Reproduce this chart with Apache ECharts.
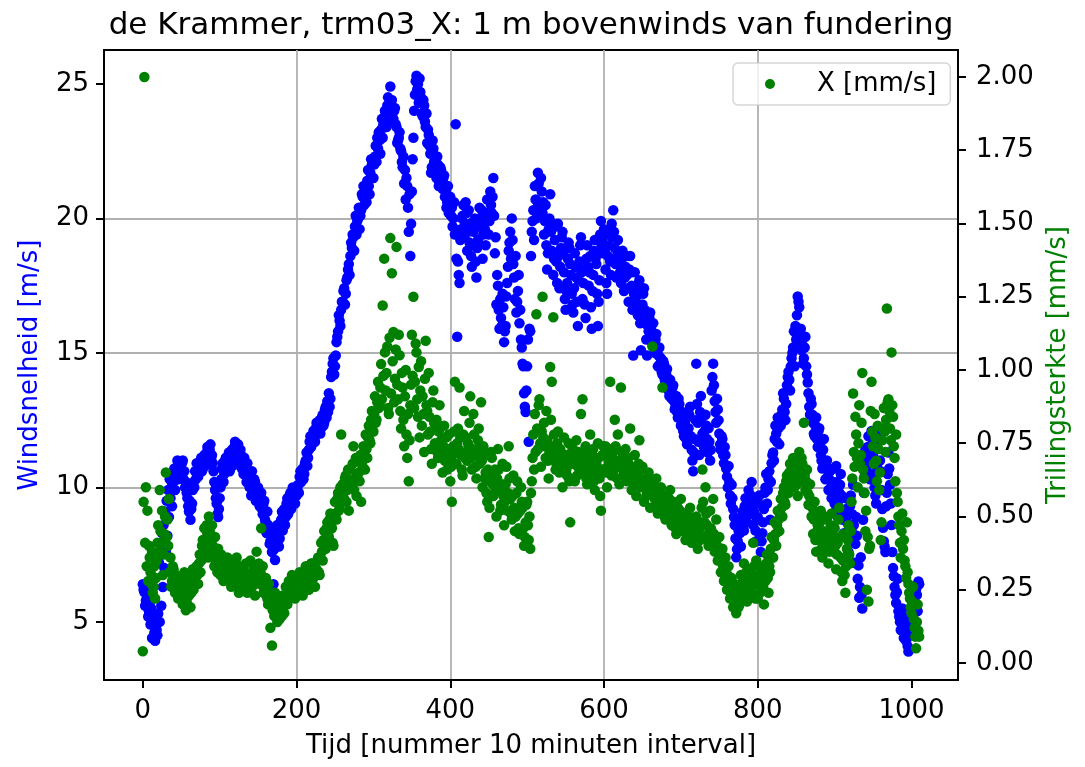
<!DOCTYPE html>
<html>
<head>
<meta charset="utf-8">
<script src="https://cdn.jsdelivr.net/npm/echarts@6/dist/echarts.min.js"></script>
<style>
html,body{margin:0;padding:0;background:#fff;}
#chart{width:1085px;height:767px;}
</style>
</head>
<body>
<div id="chart"></div>
<script>
// One stored value per 10-minute interval number, starting at interval 0
const tijdStap = 1;

// Windsnelheid [m/s]  (10 values per row: intervals n0..n9)
const windsnelheid = [
 6.4,6.2,6.1,5.6,5.8,6.3,6.0,5.2,5.4,5.7,
 4.9,5.5,4.4,5.0,5.1,4.6,4.3,5.3,4.7,4.5,
 5.3,7.2,5.0,7.6,5.6,8.3,6.3,8.6,7.0,9.1,
 7.6,9.5,8.2,9.9,8.9,10.3,9.6,10.0,9.3,10.5,
 10.2,10.7,9.9,10.4,10.6,11.0,10.3,10.8,10.9,10.4,
 10.5,10.9,11.0,10.3,10.6,10.0,10.2,9.8,9.6,9.3,
 9.1,9.5,8.8,9.2,9.4,9.9,10.2,10.0,10.6,10.3,
 10.9,10.5,10.4,10.9,10.8,11.0,11.1,10.6,10.7,11.0,
 11.2,10.8,10.9,11.3,11.5,11.0,11.3,11.4,11.6,11.1,
 11.2,10.9,10.6,10.2,9.9,9.6,9.4,9.0,8.9,9.2,
 9.6,10.0,10.3,10.7,10.9,10.2,10.5,11.0,11.1,10.7,
 10.8,11.1,11.3,10.6,10.9,11.2,11.4,10.8,11.0,11.5,
 11.7,11.0,11.3,11.5,11.6,11.1,10.9,11.4,11.2,10.7,
 10.8,10.5,11.1,10.7,10.6,10.2,10.9,10.3,10.4,10.0,
 10.1,9.7,10.6,10.0,9.8,10.3,10.2,9.5,9.6,10.0,
 10.0,9.6,9.3,9.7,9.8,9.2,9.0,9.4,9.5,8.8,
 8.7,8.3,9.1,8.6,8.4,7.9,8.0,8.2,7.6,7.8,
 6.4,7.7,7.3,8.2,7.9,8.6,8.5,7.8,8.1,8.7,
 8.8,9.1,8.4,8.9,9.2,8.6,8.9,9.4,9.6,9.0,
 9.3,9.7,9.8,9.2,9.5,10.0,9.9,9.6,9.4,9.8,
 9.7,10.0,10.1,9.8,10.4,10.6,10.2,10.5,10.7,10.3,
 10.5,10.9,11.0,11.3,10.8,11.1,11.4,11.7,11.9,11.5,
 11.6,11.9,12.1,11.8,11.7,12.2,12.4,12.1,12.0,12.3,
 12.5,12.0,12.2,12.6,12.7,12.3,12.4,12.9,13.0,12.6,
 13.2,12.8,13.5,13.0,13.3,14.1,14.3,14.6,14.8,14.2,
 14.5,14.9,15.4,15.6,15.8,16.4,16.2,16.0,16.6,16.9,
 16.9,17.3,17.4,16.8,17.2,17.7,17.8,18.1,18.3,17.9,
 18.6,19.1,18.9,19.4,19.3,18.8,19.7,20.1,19.4,19.9,
 20.0,20.4,19.6,20.1,20.3,20.9,20.8,21.2,20.5,21.0,
 21.0,20.6,21.4,21.8,21.2,20.9,21.7,22.2,22.0,21.5,
 21.5,22.0,22.3,22.7,22.1,23.0,22.6,23.2,22.9,22.4,
 23.3,23.7,23.0,23.5,23.6,24.0,23.9,23.4,24.2,24.5,
 23.8,24.3,24.9,23.9,24.4,23.6,23.7,24.0,24.1,23.5,
 23.4,22.8,22.9,23.0,23.2,22.6,22.5,22.1,21.9,22.3,
 21.3,21.8,20.7,21.5,21.2,20.4,19.5,20.9,18.6,19.8,
 21.0,22.2,23.0,24.0,24.6,25.1,25.3,24.8,25.0,24.3,
 25.2,24.7,24.5,23.9,23.8,24.4,24.2,23.6,23.4,23.9,
 22.8,23.3,23.1,22.7,22.4,21.7,21.9,22.9,22.6,22.1,
 22.2,21.7,21.5,22.3,22.0,21.2,21.3,21.9,21.8,21.4,
 21.1,21.5,21.6,20.8,21.0,20.4,20.6,21.2,20.2,20.7,
 20.8,20.1,20.4,19.7,20.0,20.6,19.4,23.5,18.5,15.6,
 18.4,17.9,17.6,19.2,19.6,20.0,20.1,20.5,19.3,19.8,
 20.6,20.2,18.8,19.5,20.3,19.1,19.8,18.6,18.2,19.0,
 19.5,19.9,20.0,18.4,17.8,18.9,19.2,19.7,20.4,20.0,
 19.7,20.3,18.5,19.4,20.1,19.6,19.0,20.0,20.7,20.2,
 19.4,19.9,21.0,20.5,20.2,20.8,21.5,20.1,18.7,19.3,
 16.8,17.9,17.5,16.6,15.9,17.0,16.3,16.0,17.2,16.7,
 15.4,15.8,16.0,17.1,17.6,18.2,18.8,19.1,19.5,18.5,
 20.0,19.2,18.3,17.8,17.0,18.6,16.5,16.9,17.3,17.9,
 16.1,16.6,15.5,15.2,14.6,14.5,13.5,13.0,12.8,13.6,
 14.5,15.5,11.7,15.9,15.8,18.6,19.5,19.9,20.3,19.2,
 21.2,20.7,20.0,20.4,21.7,21.3,20.6,20.2,21.5,21.0,
 20.2,20.6,19.4,19.9,20.5,19.0,18.1,18.7,19.6,20.0,
 20.9,19.5,18.8,19.8,17.9,18.5,19.2,19.7,18.4,17.6,
 19.8,18.6,17.4,18.2,18.9,19.3,19.5,18.7,18.0,17.0,
 16.6,17.3,17.6,18.5,19.1,18.9,18.3,17.9,17.2,16.8,
 16.5,17.4,18.7,18.2,17.8,16.9,16.0,17.7,18.4,19.0,
 19.3,18.0,17.0,17.6,18.1,16.8,16.3,18.5,19.0,18.2,
 17.5,18.0,18.6,16.7,15.9,17.3,17.9,18.8,19.2,18.5,
 18.3,17.2,16.0,16.9,17.7,19.4,19.9,19.0,18.7,19.3,
 19.6,18.8,18.1,17.6,17.2,18.6,19.0,19.5,18.4,17.9,
 19.8,19.3,20.3,19.5,18.9,18.3,17.8,18.6,19.2,18.7,
 18.5,18.0,17.6,18.3,18.8,17.9,17.3,17.8,18.2,18.6,
 17.9,17.4,16.9,18.1,18.6,18.0,17.5,16.6,14.9,17.2,
 18.0,17.5,17.1,16.8,16.4,17.2,17.7,16.1,15.1,16.5,
 16.8,17.2,17.4,16.6,16.2,15.5,14.9,16.0,15.8,16.3,
 16.5,15.9,15.6,15.3,16.1,15.4,15.0,15.5,15.7,15.1,
 14.5,14.9,15.2,14.6,14.8,14.3,14.2,14.7,14.6,14.0,
 13.9,14.2,14.4,13.8,13.6,13.4,14.0,13.5,13.3,13.7,
 13.8,13.2,12.9,13.0,13.4,12.8,12.6,13.3,13.1,12.7,
 12.3,12.6,12.8,12.1,11.9,12.4,12.5,11.8,11.6,12.0,
 12.2,12.7,13.0,11.9,11.4,11.0,10.6,11.3,11.8,12.5,
 14.6,13.1,12.4,11.7,11.2,12.8,13.4,12.6,12.0,11.6,
 11.5,12.1,12.7,12.3,11.8,11.3,12.2,11.7,11.0,11.4,
 13.6,14.1,14.6,13.8,13.2,12.8,12.4,13.3,12.9,12.5,
 12.0,11.6,11.4,11.9,11.8,11.2,10.9,11.5,11.2,10.7,
 10.4,10.0,10.8,10.2,9.7,9.4,10.1,9.6,9.2,8.9,
 8.6,8.1,7.4,7.7,8.0,8.4,8.8,8.3,7.8,8.5,
 9.1,8.7,8.4,9.3,9.6,9.0,8.7,9.5,9.9,9.4,
 9.0,9.7,10.2,9.3,8.6,9.1,9.5,8.4,8.0,8.8,
 8.9,9.4,9.7,8.2,7.6,8.0,8.3,8.7,9.2,9.8,
 10.0,10.5,9.4,9.9,10.3,10.6,8.8,10.2,10.9,11.2,
 11.3,11.0,11.8,12.3,12.0,11.7,12.6,12.2,11.6,12.4,
 12.3,12.7,12.9,13.5,13.3,12.8,12.5,13.1,13.8,14.1,
 14.3,14.0,13.6,14.5,14.8,15.0,15.2,15.8,14.5,16.0,
 15.5,16.4,17.1,16.9,16.7,15.7,15.9,15.1,15.3,14.6,
 14.8,15.2,15.6,14.5,14.2,13.9,13.5,13.0,12.7,13.3,
 13.1,12.7,12.4,12.0,11.9,12.3,12.6,11.8,11.5,12.1,
 12.2,11.6,11.2,11.0,10.7,11.4,11.8,10.9,10.3,10.8,
 11.0,10.4,9.9,10.3,10.6,10.0,9.6,9.9,10.2,10.7,
 9.4,9.1,10.8,10.2,8.9,9.5,9.8,10.1,10.5,9.7,
 9.1,8.8,8.3,9.0,9.6,9.2,8.7,8.1,7.6,8.5,
 9.3,9.7,8.4,9.0,10.1,8.6,7.2,7.9,8.9,8.2,
 6.6,7.1,5.9,6.3,7.4,6.0,5.5,8.8,9.8,10.4,
 11.4,11.0,10.6,11.5,11.9,11.2,10.3,10.9,12.1,11.6,
 11.2,10.5,10.0,9.7,9.4,10.8,11.7,11.9,12.0,11.0,
 10.6,9.9,9.2,8.5,8.0,7.8,7.6,9.3,9.8,10.5,
 11.3,10.7,10.1,9.4,8.6,7.6,7.0,6.7,6.3,6.0,
 5.7,6.1,6.6,5.4,5.2,5.0,4.7,5.3,5.5,4.9,
 4.4,4.8,5.0,4.3,4.6,4.1,3.9,4.7,5.2,4.5,
 4.5,5.1,5.8,5.5,4.9,5.7,6.2,6.0,5.4,6.5,
 6.4
];

// Trillingsterkte X [mm/s]  (10 values per row: intervals n0..n9)
const trillingX = [
 0.04,0.55,2.00,0.41,0.60,0.33,0.52,0.28,0.40,0.36,
 0.31,0.27,0.38,0.24,0.26,0.33,0.22,0.29,0.35,0.41,
 0.47,0.38,0.59,0.45,0.41,0.52,0.30,0.37,0.44,0.50,
 0.65,0.43,0.49,0.40,0.56,0.31,0.36,0.26,0.28,0.33,
 0.32,0.28,0.24,0.30,0.27,0.25,0.22,0.29,0.25,0.23,
 0.29,0.24,0.20,0.27,0.31,0.23,0.18,0.21,0.26,0.30,
 0.23,0.26,0.19,0.24,0.28,0.32,0.25,0.29,0.30,0.27,
 0.33,0.30,0.27,0.34,0.37,0.31,0.35,0.40,0.42,0.38,
 0.46,0.42,0.39,0.47,0.44,0.36,0.50,0.45,0.41,0.37,
 0.47,0.40,0.36,0.33,0.43,0.38,0.34,0.31,0.39,0.35,
 0.33,0.30,0.37,0.32,0.31,0.28,0.35,0.30,0.29,0.33,
 0.36,0.31,0.32,0.28,0.30,0.26,0.34,0.29,0.27,0.32,
 0.31,0.27,0.36,0.30,0.28,0.24,0.33,0.29,0.25,0.30,
 0.30,0.26,0.27,0.31,0.34,0.28,0.24,0.27,0.29,0.25,
 0.35,0.30,0.26,0.29,0.32,0.27,0.23,0.31,0.38,0.28,
 0.30,0.34,0.27,0.31,0.46,0.28,0.33,0.24,0.25,0.29,
 0.29,0.25,0.22,0.20,0.27,0.23,0.12,0.21,0.06,0.18,
 0.20,0.16,0.24,0.19,0.17,0.14,0.21,0.18,0.15,0.19,
 0.19,0.16,0.23,0.20,0.17,0.22,0.26,0.21,0.20,0.24,
 0.28,0.25,0.24,0.27,0.30,0.23,0.26,0.29,0.22,0.27,
 0.29,0.26,0.25,0.28,0.31,0.24,0.27,0.30,0.23,0.28,
 0.30,0.27,0.33,0.29,0.28,0.31,0.25,0.30,0.31,0.34,
 0.34,0.30,0.29,0.33,0.26,0.31,0.32,0.35,0.36,0.31,
 0.30,0.36,0.41,0.38,0.35,0.42,0.45,0.40,0.39,0.46,
 0.48,0.44,0.43,0.49,0.51,0.47,0.46,0.41,0.40,0.50,
 0.55,0.51,0.49,0.56,0.58,0.52,0.53,0.60,0.78,0.57,
 0.61,0.58,0.56,0.63,0.64,0.55,0.59,0.66,0.52,0.60,
 0.66,0.62,0.60,0.68,0.74,0.59,0.63,0.70,0.57,0.64,
 0.69,0.65,0.62,0.71,0.55,0.68,0.67,0.74,0.72,0.66,
 0.78,0.73,0.70,0.77,0.81,0.76,0.75,0.83,0.86,0.79,
 0.79,0.85,0.91,0.82,0.83,0.89,0.96,0.87,0.88,0.94,
 1.02,0.90,1.22,0.98,1.38,1.06,0.93,0.99,1.08,0.87,
 0.85,1.11,1.45,0.92,1.33,1.03,1.13,0.89,0.97,1.07,
 1.42,0.95,0.90,1.12,1.05,0.86,0.80,0.99,0.94,0.83,
 0.74,0.91,1.00,0.78,0.70,0.85,0.62,0.76,0.88,0.95,
 1.12,0.98,1.25,0.87,0.96,1.09,1.06,0.90,0.84,1.01,
 0.77,0.93,1.03,0.81,0.91,0.85,0.72,0.97,1.10,0.88,
 0.86,0.78,0.99,0.84,0.79,0.73,0.68,0.89,0.93,0.82,
 0.75,0.80,0.83,0.72,0.70,0.79,0.88,0.81,0.76,0.71,
 0.65,0.74,0.81,0.69,0.72,0.77,0.66,0.73,0.78,0.70,
 0.62,0.67,0.55,0.71,0.74,0.79,0.96,0.72,0.68,0.75,
 0.80,0.73,0.94,0.77,0.71,0.66,0.64,0.78,0.86,0.70,
 0.77,0.72,0.69,0.75,0.74,0.82,0.91,0.70,0.66,0.73,
 0.85,0.78,0.72,0.67,0.63,0.71,0.76,0.80,0.68,0.74,
 0.89,0.69,0.60,0.74,0.71,0.63,0.65,0.58,0.55,0.66,
 0.43,0.53,0.62,0.72,0.70,0.61,0.57,0.64,0.66,0.59,
 0.50,0.63,0.73,0.66,0.59,0.52,0.54,0.61,0.68,0.57,
 0.47,0.55,0.61,0.67,0.52,0.58,0.74,0.63,0.56,0.51,
 0.49,0.57,0.64,0.53,0.45,0.50,0.58,0.62,0.51,0.46,
 0.44,0.52,0.60,0.55,0.53,0.46,0.40,0.43,0.48,0.54,
 0.55,0.47,0.42,0.50,0.39,0.58,0.62,0.70,0.78,0.66,
 0.85,0.72,1.19,0.80,0.73,0.88,0.90,0.75,0.67,0.79,
 1.25,0.77,0.82,0.74,0.70,0.86,0.76,0.69,0.63,0.72,
 1.01,0.83,0.96,0.71,1.18,0.78,0.74,0.66,0.68,0.75,
 0.79,0.70,0.65,0.73,0.72,0.67,0.60,0.69,0.77,0.71,
 0.70,0.66,0.64,0.71,0.75,0.62,0.48,0.68,0.69,0.73,
 0.73,0.68,0.62,0.70,0.76,0.64,0.67,0.72,0.71,0.65,
 0.85,0.70,0.90,0.68,0.66,0.72,0.74,0.63,0.61,0.69,
 0.70,0.66,0.78,0.69,0.65,0.71,0.73,0.62,0.59,0.67,
 0.68,0.64,0.75,0.70,0.63,0.57,0.52,0.66,0.71,0.74,
 0.66,0.71,0.74,0.65,0.60,0.67,0.69,0.73,0.96,0.68,
 0.64,0.70,0.72,0.66,0.83,0.74,0.67,0.63,0.78,0.69,
 0.61,0.68,0.94,0.72,0.70,0.64,0.65,0.71,0.73,0.66,
 0.62,0.70,0.68,0.63,0.80,0.67,0.59,0.64,0.66,0.61,
 0.71,0.65,0.57,0.62,0.64,0.68,0.76,0.63,0.60,0.66,
 0.67,0.61,0.55,0.60,0.62,0.57,0.58,0.63,0.65,0.59,
 0.53,0.60,0.62,1.08,0.61,0.57,0.56,0.59,0.63,0.55,
 0.51,0.56,0.58,0.53,0.60,0.55,0.94,0.57,0.54,0.50,
 0.49,0.54,0.57,0.51,0.52,0.56,0.59,0.50,0.47,0.53,
 0.55,0.49,0.50,0.46,0.44,0.51,0.53,0.47,0.48,0.52,
 0.56,0.50,0.45,0.48,0.51,0.46,0.42,0.47,0.49,0.44,
 0.46,0.50,0.53,0.45,0.41,0.47,0.48,0.43,0.44,0.49,
 0.50,0.44,0.39,0.45,0.46,0.42,0.48,0.53,0.66,0.55,
 0.43,0.48,0.60,0.51,0.47,0.42,0.40,0.45,0.52,0.46,
 0.45,0.41,0.56,0.44,0.38,0.43,0.49,0.40,0.35,0.39,
 0.43,0.37,0.31,0.35,0.39,0.33,0.28,0.32,0.36,0.30,
 0.25,0.30,0.33,0.27,0.22,0.26,0.29,0.23,0.19,0.24,
 0.27,0.21,0.17,0.22,0.24,0.19,0.20,0.26,0.30,0.23,
 0.23,0.28,0.34,0.25,0.26,0.31,0.21,0.27,0.29,0.24,
 0.32,0.28,0.24,0.30,0.41,0.33,0.27,0.22,0.35,0.29,
 0.22,0.27,0.30,0.24,0.25,0.31,0.33,0.26,0.20,0.28,
 0.28,0.34,0.37,0.29,0.24,0.33,0.31,0.39,0.43,0.36,
 0.36,0.42,0.48,0.44,0.40,0.47,0.52,0.49,0.45,0.50,
 0.56,0.53,0.50,0.58,0.60,0.55,0.54,0.62,0.64,0.59,
 0.58,0.65,0.68,0.63,0.62,0.67,0.70,0.66,0.60,0.64,
 0.65,0.61,0.57,0.69,0.72,0.66,0.63,0.70,0.68,0.62,
 0.82,0.64,0.59,0.62,0.66,0.58,0.54,0.57,0.61,0.55,
 0.50,0.53,0.44,0.49,0.55,0.42,0.38,0.45,0.47,0.51,
 0.42,0.48,0.52,0.39,0.36,0.43,0.45,0.50,0.40,0.44,
 0.49,0.41,0.34,0.38,0.43,0.47,0.51,0.44,0.38,0.42,
 0.46,0.40,0.32,0.37,0.41,0.49,0.53,0.43,0.36,0.31,
 0.28,0.35,0.44,0.30,0.24,0.33,0.39,0.42,0.47,0.37,
 0.34,0.45,0.55,0.63,0.92,0.72,0.67,0.84,0.78,0.70,
 0.60,0.75,0.88,0.68,0.71,0.82,0.99,0.66,0.63,0.58,
 0.45,0.52,0.25,0.43,0.21,0.39,0.40,0.86,0.96,0.79,
 0.74,0.68,0.85,0.77,0.69,0.62,0.81,0.73,0.59,0.65,
 0.42,0.48,0.76,0.80,0.87,0.79,0.72,0.83,1.21,0.89,
 0.90,0.86,0.80,0.76,1.06,0.88,0.84,0.74,0.70,0.62,
 0.78,0.58,0.55,0.50,0.47,0.41,0.36,0.45,0.51,0.39,
 0.42,0.35,0.33,0.29,0.48,0.31,0.27,0.24,0.22,0.19,
 0.17,0.21,0.26,0.15,0.12,0.09,0.05,0.14,0.20,0.11,
 0.09
];

const xTickValues = [0, 200, 400, 600, 800, 1000];
const windTickValues = [5, 10, 15, 20, 25];
const trilTickValues = [0, 0.25, 0.5, 0.75, 1.0, 1.25, 1.5, 1.75, 2.0];

const titel = 'de Krammer, trm03_X: 1 m bovenwinds van fundering';
const xNaam = 'Tijd [nummer 10 minuten interval]';
const windNaam = 'Windsnelheid [m/s]';
const trilNaam = 'Trillingsterkte [mm/s]';
const legendaNaam = 'X [mm/s]';

const FONT = 'DejaVu Sans';
const windData = windsnelheid.map((v, i) => [i * tijdStap, v]);
const trilData = trillingX.map((v, i) => [i * tijdStap, v]);

const chart = echarts.init(document.getElementById('chart'), null, {renderer: 'canvas'});
const axisLineStyle = {color: '#000', width: 2};
const option = {
  animation: false,
  backgroundColor: '#fff',
  textStyle: {fontFamily: FONT},
  title: {
    text: titel,
    left: 531,
    top: 10,
    textAlign: 'center',
    padding: 0,
    textStyle: {fontFamily: FONT, fontSize: 31, fontWeight: 'normal', color: '#000'}
  },
  grid: {
    left: 104, right: 127, top: 50, bottom: 87,
    show: true, borderColor: '#000', borderWidth: 2, backgroundColor: 'transparent'
  },
  legend: {
    data: [legendaNaam],
    left: 733, top: 63,
    icon: 'circle',
    itemWidth: 10, itemHeight: 10,
    selectedMode: false,
    padding: [8, 14, 8, 32],
    backgroundColor: 'rgba(255,255,255,0.8)',
    borderColor: 'rgba(204,204,204,0.8)',
    borderWidth: 1.5,
    borderRadius: 5,
    formatter: '{s|}{name}',
    textStyle: {fontFamily: FONT, fontSize: 26, color: '#000', rich: {s: {width: 37}}}
  },
  xAxis: {
    type: 'value',
    min: -50.5, max: 1060.5,
    minInterval: 200, maxInterval: 200,
    name: xNaam,
    nameLocation: 'middle',
    nameGap: 53,
    nameTextStyle: {fontFamily: FONT, fontSize: 26, color: '#000'},
    axisLine: {show: true, onZero: false, lineStyle: axisLineStyle},
    axisTick: {show: true, inside: false, length: 8, lineStyle: axisLineStyle, customValues: xTickValues},
    axisLabel: {customValues: xTickValues, fontFamily: FONT, fontSize: 26, color: '#000', margin: 18,
      formatter: v => String(v)},
    splitLine: {show: true, showMinLine: false, showMaxLine: false, lineStyle: {color: '#b0b0b0', width: 1.8}}
  },
  yAxis: [
    {
      type: 'value',
      position: 'left',
      min: 2.84, max: 26.26,
      minInterval: 5, maxInterval: 5,
      name: windNaam,
      nameLocation: 'middle',
      nameRotate: 90,
      nameGap: 61,
      nameTextStyle: {fontFamily: FONT, fontSize: 26, color: '#0000ff'},
      axisLine: {show: true, onZero: false, lineStyle: axisLineStyle},
      axisTick: {show: true, inside: false, length: 8, lineStyle: axisLineStyle, customValues: windTickValues},
      axisLabel: {customValues: windTickValues, fontFamily: FONT, fontSize: 26, color: '#000', margin: 15,
        formatter: v => String(v)},
      splitLine: {show: true, showMinLine: false, showMaxLine: false, lineStyle: {color: '#b0b0b0', width: 1.8}}
    },
    {
      type: 'value',
      position: 'right',
      min: -0.058, max: 2.092,
      minInterval: 0.25, maxInterval: 0.25,
      name: trilNaam,
      nameLocation: 'middle',
      nameRotate: 90,
      nameGap: 85,
      nameTextStyle: {fontFamily: FONT, fontSize: 26, color: '#008000'},
      axisLine: {show: true, onZero: false, lineStyle: axisLineStyle},
      axisTick: {show: true, inside: false, length: 8, lineStyle: axisLineStyle, customValues: trilTickValues},
      axisLabel: {customValues: trilTickValues, fontFamily: FONT, fontSize: 26, color: '#000', margin: 18,
        formatter: v => v.toFixed(2)},
      splitLine: {show: false}
    }
  ],
  series: [
    {
      name: windNaam,
      type: 'scatter',
      xAxisIndex: 0, yAxisIndex: 0,
      symbol: 'circle', symbolSize: 10.5,
      itemStyle: {color: '#0000ff', opacity: 1},
      emphasis: {disabled: true},
      silent: true,
      data: windData
    },
    {
      name: legendaNaam,
      type: 'scatter',
      xAxisIndex: 0, yAxisIndex: 1,
      symbol: 'circle', symbolSize: 10.5,
      itemStyle: {color: '#008000', opacity: 1},
      emphasis: {disabled: true},
      silent: true,
      data: trilData
    }
  ]
};
chart.setOption(option);
</script>
</body>
</html>
